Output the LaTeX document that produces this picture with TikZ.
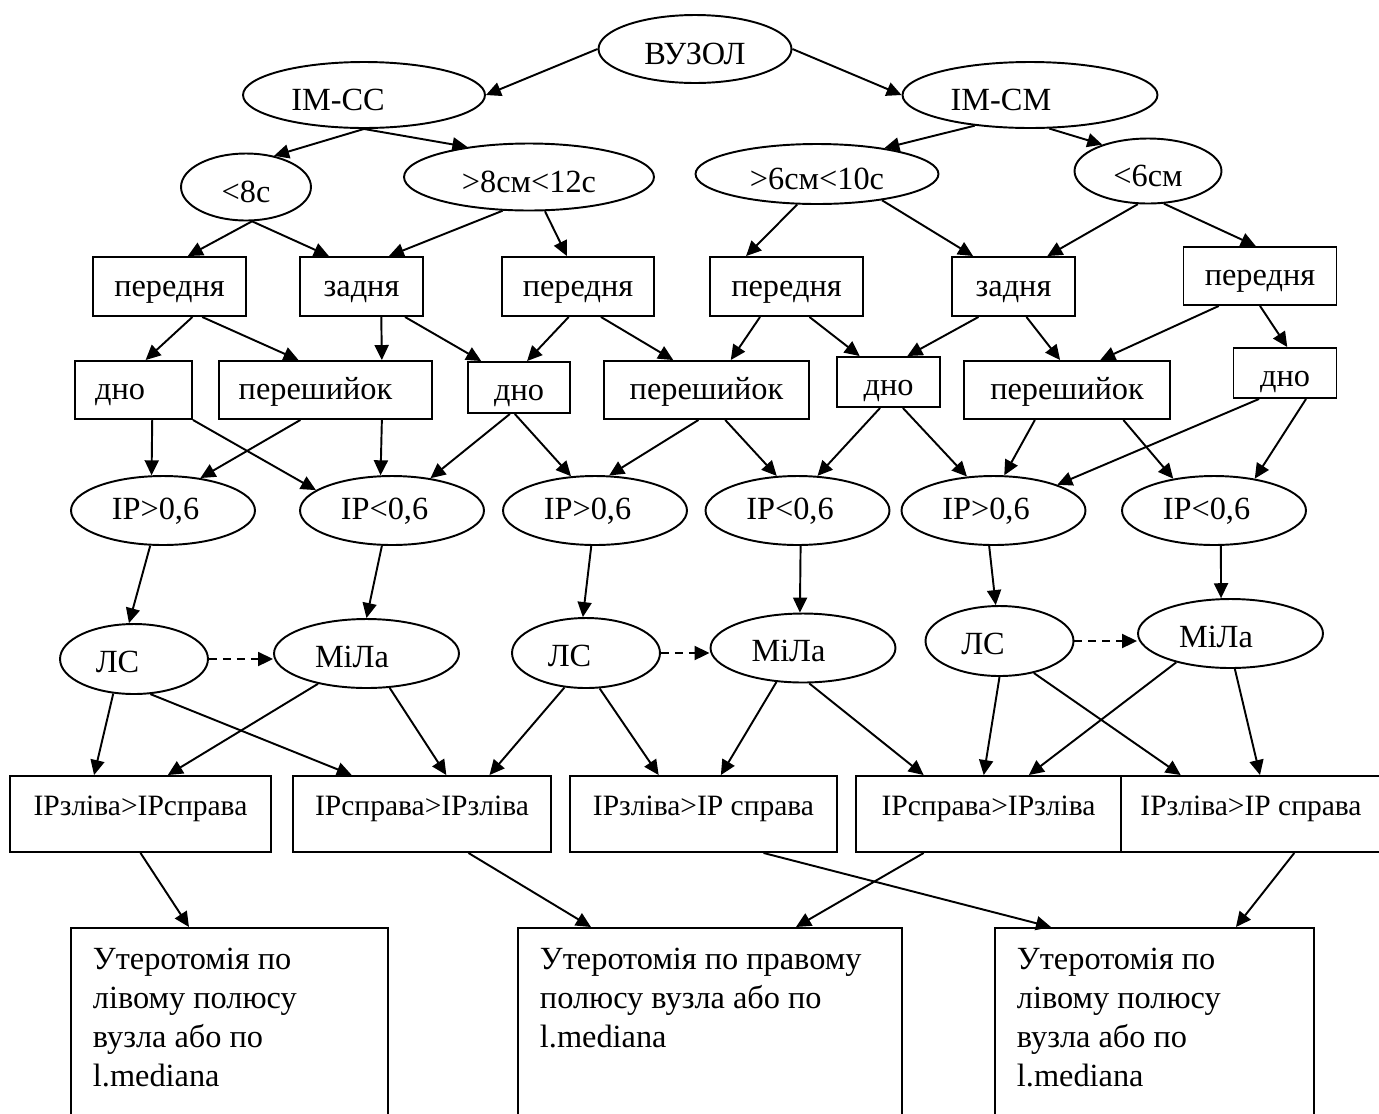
\documentclass[tikz,border=0pt]{standalone}
\usepackage{fontspec}
\setmainfont{Liberation Serif}
\usetikzlibrary{shapes.geometric,arrows.meta}

\begin{document}
\begin{tikzpicture}[x=0.02cm,y=-0.02cm,line width=1.1pt,
  font=\fontsize{18.4}{22.2}\selectfont,
  >={Triangle[length=0.3cm,width=0.28cm]},
  oval/.style={draw,ellipse,inner sep=1pt,text height=0.6cm,text depth=0cm},
  rect/.style={draw,rectangle,inner sep=1pt,text height=0.5cm,text depth=0.12cm},
  low/.style={text height=0.64cm},
  ip/.style={oval,minimum width=3.68cm,minimum height=1.38cm,text height=0.46cm,text depth=0.1cm,
    execute at end node=\hspace*{0.3cm}},
  ls/.style={oval,minimum width=2.96cm,minimum height=1.4cm,text height=0.54cm,
    execute at end node=\hspace*{0.66cm}},
  mila/.style={oval,minimum width=3.7cm,minimum height=1.38cm,text height=0.54cm,
    execute at end node=\hspace*{0.58cm}},
  cmp/.style={draw,rectangle,inner sep=1pt,minimum height=1.52cm,text depth=0.32cm,
    font=\fontsize{16.8}{20}\selectfont},
  res/.style={draw,anchor=north west,inner xsep=0.44cm,inner ysep=0.4cm},
  ds/.style={->,dash pattern=on 0.16cm off 0.12cm}]
\useasboundingbox (0,0) rectangle (1379,1113);
\clip (0,0) rectangle (1379,1113);

\node[oval,minimum width=3.86cm,minimum height=1.36cm] (vuzol) at (695,49) {ВУЗОЛ};
\node[oval,minimum width=4.84cm,minimum height=1.32cm] (imcc) at (364,95) {IM-CC\hspace*{1.04cm}};
\node[oval,minimum width=5.1cm,minimum height=1.32cm] (imcm) at (1030,95) {IM-CM\hspace*{1.16cm}};
\node[oval,minimum width=2.6cm,minimum height=1.34cm] (lt8) at (246,187) {<8с};
\node[oval,minimum width=5cm,minimum height=1.34cm] (gt8) at (529,177) {>8см<12с};
\node[oval,minimum width=4.86cm,minimum height=1.2cm] (gt6) at (817,174) {>6см<10с};
\node[oval,minimum width=2.94cm,minimum height=1.3cm] (lt6) at (1148,171) {<6см};

\node[rect,minimum width=3.06cm,minimum height=1.18cm] (pa) at (169.5,286.5) {передня};
\node[rect,minimum width=2.46cm,minimum height=1.18cm] (za) at (361.5,286.5) {задня};
\node[rect,minimum width=3.04cm,minimum height=1.18cm] (pb) at (578,286.5) {передня};
\node[rect,minimum width=3.06cm,minimum height=1.18cm] (pc) at (786.5,286.5) {передня};
\node[rect,minimum width=2.46cm,minimum height=1.18cm] (zb) at (1013.5,286.5) {задня};
\node[rect,minimum width=3.06cm,minimum height=1.16cm] (pd) at (1260,276) {передня};

\node[rect,minimum width=2.34cm,minimum height=1.16cm] (da) at (133.5,390) {дно\hspace*{0.54cm}};
\node[rect,minimum width=4.26cm,minimum height=1.16cm] (sa) at (325.5,390) {перешийок\hspace*{0.4cm}};
\node[rect,low,minimum width=2.04cm,minimum height=1.02cm] (db) at (519,387.5) {дно};
\node[rect,minimum width=4.1cm,minimum height=1.16cm] (sb) at (706.5,390) {перешийок};
\node[rect,low,minimum width=2.06cm,minimum height=1cm] (dc) at (888.5,382) {дно};
\node[rect,minimum width=4.12cm,minimum height=1.16cm] (sc) at (1067,390) {перешийок};
\node[rect,low,minimum width=2.06cm,minimum height=1cm] (dd) at (1285,373) {дно};

\node[ip] (ipa) at (163,510.5) {IP>0,6};
\node[ip] (ipb) at (392,510.5) {IP<0,6};
\node[ip] (ipc) at (595,510.5) {IP>0,6};
\node[ip] (ipd) at (797.5,510.5) {IP<0,6};
\node[ip] (ipe) at (993.5,510.5) {IP>0,6};
\node[ip] (ipf) at (1214,510.5) {IP<0,6};

\node[ls] (lsa) at (134,659) {ЛС};
\node[mila] (ma) at (366.5,653.5) {МіЛа};
\node[ls] (lsb) at (586,653) {ЛС};
\node[mila] (mb) at (803,648) {МіЛа};
\node[ls] (lsc) at (999.5,641) {ЛС};
\node[mila] (mc) at (1230.5,633.5) {МіЛа};

\node[cmp,minimum width=5.22cm] (ka) at (140.5,814) {IPзліва>IPсправа};
\node[cmp,minimum width=5.16cm] (kb) at (422,814) {IPсправа>IPзліва};
\node[cmp,minimum width=5.34cm] (kc) at (703.5,814) {IPзліва>IP справа};
\node[cmp,minimum width=5.3cm] (kd) at (988.5,814) {IPсправа>IPзліва};
\node[cmp,minimum width=5.2cm] (ke) at (1251,814) {IPзліва>IP справа};

\node[res] (ra) at (70,927) {\parbox[c][4cm][t]{5.46cm}{\raggedright Утеротомія по\\лівому полюсу\\вузла або по\\l.mediana}};
\node[res] (rb) at (517,927) {\parbox[c][4cm][t]{6.8cm}{\raggedright Утеротомія по правому\\полюсу вузла або по\\l.mediana}};
\node[res] (rc) at (994,927) {\parbox[c][4cm][t]{5.5cm}{\raggedright Утеротомія по\\лівому полюсу\\вузла або по\\l.mediana}};

\draw[->] (vuzol.west) -- (imcc.east);
\draw[->] (vuzol.east) -- (imcm.west);
\draw[->] (imcc.south) -- (lt8.48);
\draw[->] (imcc.south) -- (gt8.154);
\draw[->] (imcm.209) -- (gt6.21);
\draw[->] (imcm.300) -- (lt6.150);

\draw[->] (lt8.280) -- (pa.59);
\draw[->] (lt8.280) -- (za.137);
\draw[->] (gt8.232) -- (za.48);
\draw[->] (gt8.295) -- (pb.110);
\draw[->] (gt6.237) -- (pc.143);
\draw[->] (gt6.338) -- (zb.143);
\draw[->] (lt6.253) -- (zb.42);
\draw[->] (lt6.296) -- (pd.98);

\draw[->] (pa.307) -- (da.68);
\draw[->] (pa.317) -- (sa.132);
\draw[->] (za.303) -- (sa.28);
\draw[->] (za.325) -- (db.145);
\draw[->] (pb.253) -- (db.73);
\draw[->] (pb.307) -- (sb.138);
\draw[->] (pc.229) -- (sb.51);
\draw[->] (pc.307) -- (dc.138);
\draw[->] (zb.221) -- (dc.54);
\draw[->] (zb.293) -- (sc.103);
\draw[->] (pd.216) -- (sc.42);
\draw[->] (pd.south) -- (dd.85);

\draw[->] (da.302) -- (ipa.108);
\draw[->] (da.south east) -- (ipb.165);
\draw[->] (sa.230) -- (ipa.41);
\draw[->] (sa.332) -- (ipb.108);
\draw[->] (db.251) -- (ipb.40);
\draw[->] (db.261) -- (ipc.125);
\draw[->] (sb.255) -- (ipc.68);
\draw[->] (sb.302) -- (ipd.121);
\draw[->] (dc.252) -- (ipd.60);
\draw[->] (dc.299) -- (ipe.128);
\draw[->] (sc.223) -- (ipe.73);
\draw[->] (sc.332) -- (ipf.142);
\draw[->] (dd.225) -- (ipe.22);
\draw[->] (dd.309) -- (ipf.38);

\draw[->] (ipa.250) -- (lsa.98);
\draw[->] (ipb.254) -- (ma.north);
\draw[->] (ipc.264) -- (lsb.95);
\draw[->] (ipd.275) -- (mb.95);
\draw[->] (ipe.263) -- (lsc.96);
\draw[->] (ipf.281) -- (mc.105);

\draw[ds] (lsa.east) -- (lsa.east -| ma.west);
\draw[ds] (lsb.east) -- (lsb.east -| mb.west);
\draw[ds] (lsc.east) -- (lsc.east -| mc.west);

\draw[->] (lsa.239) -- (ka.140);
\draw[->] (lsa.295) -- (kb.151);
\draw[->] (ma.212) -- (ka.55);
\draw[->] (ma.304) -- (kb.58);
\draw[->] (lsb.238) -- (kb.30);
\draw[->] (lsb.291) -- (kc.139);
\draw[->] (mb.232) -- (kc.66);
\draw[->] (mb.280) -- (kd.149);
\draw[->] (lsc.south) -- (kd.97);
\draw[->] (lsc.317) -- (ke.151);
\draw[->] (mc.208) -- (kd.44);
\draw[->] (mc.277) -- (ke.77);

\draw[->] (ka.south) -- ([xshift=2.38cm]ra.north west);
\draw[->] (kb.320) -- ([xshift=1.48cm]rb.north west);
\draw[->] (kc.327) -- ([xshift=1.14cm]rc.north west);
\draw[->] (kd.211) -- ([xshift=5.58cm]rb.north west);
\draw[->] (ke.318) -- ([xshift=4.84cm]rc.north west);
\end{tikzpicture}
\end{document}
